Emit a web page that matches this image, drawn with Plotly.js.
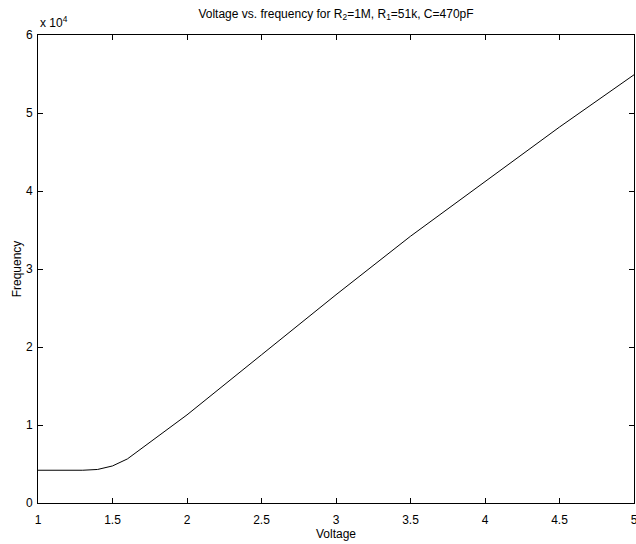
<!DOCTYPE html>
<html>
<head>
<meta charset="utf-8">
<script src="https://cdn.plot.ly/plotly-3.0.1.min.js"></script>
<style>html,body{margin:0;padding:0;background:#fff;}#plot{width:636px;height:544px;}</style>
</head>
<body>
<div id="plot"></div>
<script>
const voltage = [1, 1.3, 1.4, 1.5, 1.6, 2, 2.5, 3, 3.5, 4, 4.5, 5];
const frequency = [4200, 4200, 4300, 4750, 5650, 11300, 19000, 26700, 34200, 41200, 48200, 54900];
const xTicks = [1, 1.5, 2, 2.5, 3, 3.5, 4, 4.5, 5];
const xTickLabels = ["1", "1.5", "2", "2.5", "3", "3.5", "4", "4.5", "5"];
const yTicks = [0, 10000, 20000, 30000, 40000, 50000, 60000];
const yTickLabels = ["0", "1", "2", "3", "4", "5", "6"];

const font = {family: "Liberation Sans, Arial, sans-serif", size: 12, color: "#000"};

Plotly.newPlot("plot", [{
  x: voltage, y: frequency, type: "scatter", mode: "lines",
  line: {color: "#000", width: 1}, hoverinfo: "none"
}], {
  width: 636, height: 544,
  margin: {l: 38, r: 2, t: 35, b: 41},
  paper_bgcolor: "#fff", plot_bgcolor: "#fff",
  font: font,
  showlegend: false,
  title: {text: "Voltage vs. frequency for R<sub>2</sub>=1M, R<sub>1</sub>=51k, C=470pF",
          font: font, x: 0.5, xref: "paper", y: 0.975, yanchor: "middle"},
  xaxis: {
    range: [1, 5], tickvals: xTicks, ticktext: xTickLabels,
    ticks: "inside", ticklen: 5, tickcolor: "#000", mirror: "ticks",
    showline: true, linecolor: "#000", linewidth: 1, showgrid: false, zeroline: false,
    tickfont: font, ticklabeloverflow: "allow", ticklabelstandoff: 6,
    title: {text: "Voltage", font: font, standoff: 3}
  },
  yaxis: {
    range: [0, 60000], tickvals: yTicks, ticktext: yTickLabels,
    ticks: "inside", ticklen: 5, tickcolor: "#000", mirror: "ticks",
    showline: true, linecolor: "#000", linewidth: 1, showgrid: false, zeroline: false,
    tickfont: font, ticklabelstandoff: 2,
    title: {text: "Frequency", font: font, standoff: 1}
  },
  annotations: [{
    text: "x 10<sup>4</sup>", xref: "paper", yref: "paper", x: 0, y: 1,
    xanchor: "left", yanchor: "bottom", showarrow: false, font: font, yshift: 3
  }]
}, {displayModeBar: false, staticPlot: true});
</script>
</body>
</html>
